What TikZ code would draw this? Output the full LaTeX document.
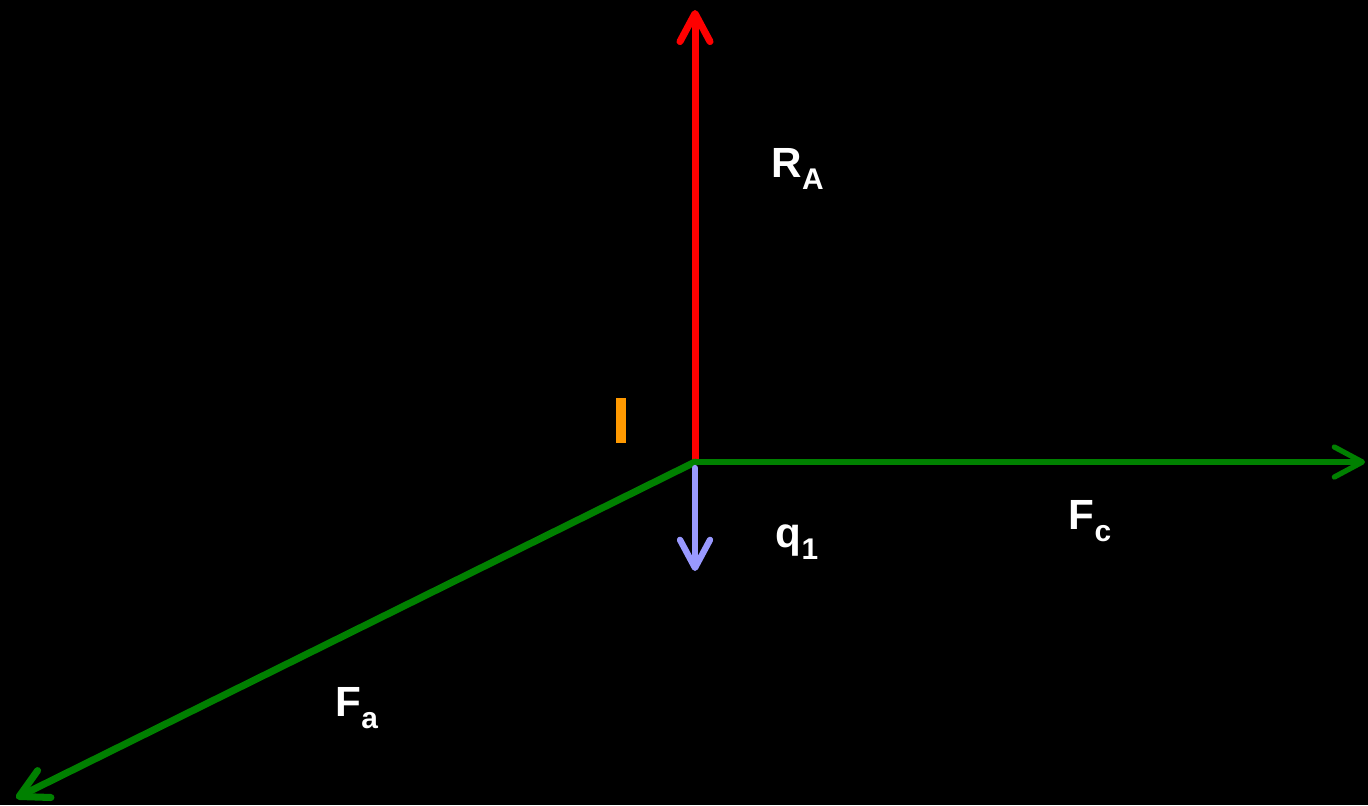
\documentclass[tikz,border=0pt]{standalone}
\usepackage{fontspec}
\setmainfont{Liberation Sans}
\usetikzlibrary{arrows.meta}

\newcommand{\forcelabel}[2]{\textbf{#1\raisebox{-0.3em}{\fontsize{8.5}{10}\selectfont #2}}}

\begin{document}
\begin{tikzpicture}[x=0.01cm, y=-0.01cm]
    % Define colours
    \definecolor{reactColour}{RGB}{255,0,0}
    \definecolor{forceColour}{RGB}{0,128,0}
    \definecolor{loadColour}{RGB}{153,153,255}
    \definecolor{markColour}{RGB}{255,153,0}

    % Define styles
    \tikzset{
        vec/.style={-{Straight Barb[round, length=0.28cm, width=0.3cm]}, line cap=round},
        lbl/.style={anchor=base west, text=white, inner sep=0pt, font=\fontsize{12}{14}\selectfont}
    }

    % Background and bounding box
    \fill[black] (0,0) rectangle (1368,805);
    \useasboundingbox (0,0) rectangle (1368,805);

    % Define coordinates for the point of application and the vector tips
    \coordinate (O) at (695,462);
    \coordinate (RA) at (695,10);
    \coordinate (FC) at (1365,462);
    \coordinate (FA) at (16,798);
    \coordinate (Q1) at (695,571);

    % Draw the orange marker
    \fill[markColour] (616,398) rectangle (626,443);

    % Draw the force vectors
    \draw[vec, draw=reactColour, line width=2pt] (O) -- (RA);
    \draw[vec, draw=forceColour, line width=1.5pt] (O) -- (FC);
    \draw[vec, draw=forceColour, line width=2pt] (O) -- (FA);
    \draw[vec, draw=loadColour, line width=1.8pt] ([yshift=-0.06cm]O) -- (Q1);

    % Label the vectors
    \node[lbl] (labelRA) at (771,177) {\forcelabel{R}{A}};
    \node[lbl] (labelFC) at (1068,529) {\forcelabel{F}{c}};
    \node[lbl] (labelQ1) at (775,547) {\forcelabel{q}{1}};
    \node[lbl] (labelFA) at (335,716) {\forcelabel{F}{a}};

\end{tikzpicture}
\end{document}
